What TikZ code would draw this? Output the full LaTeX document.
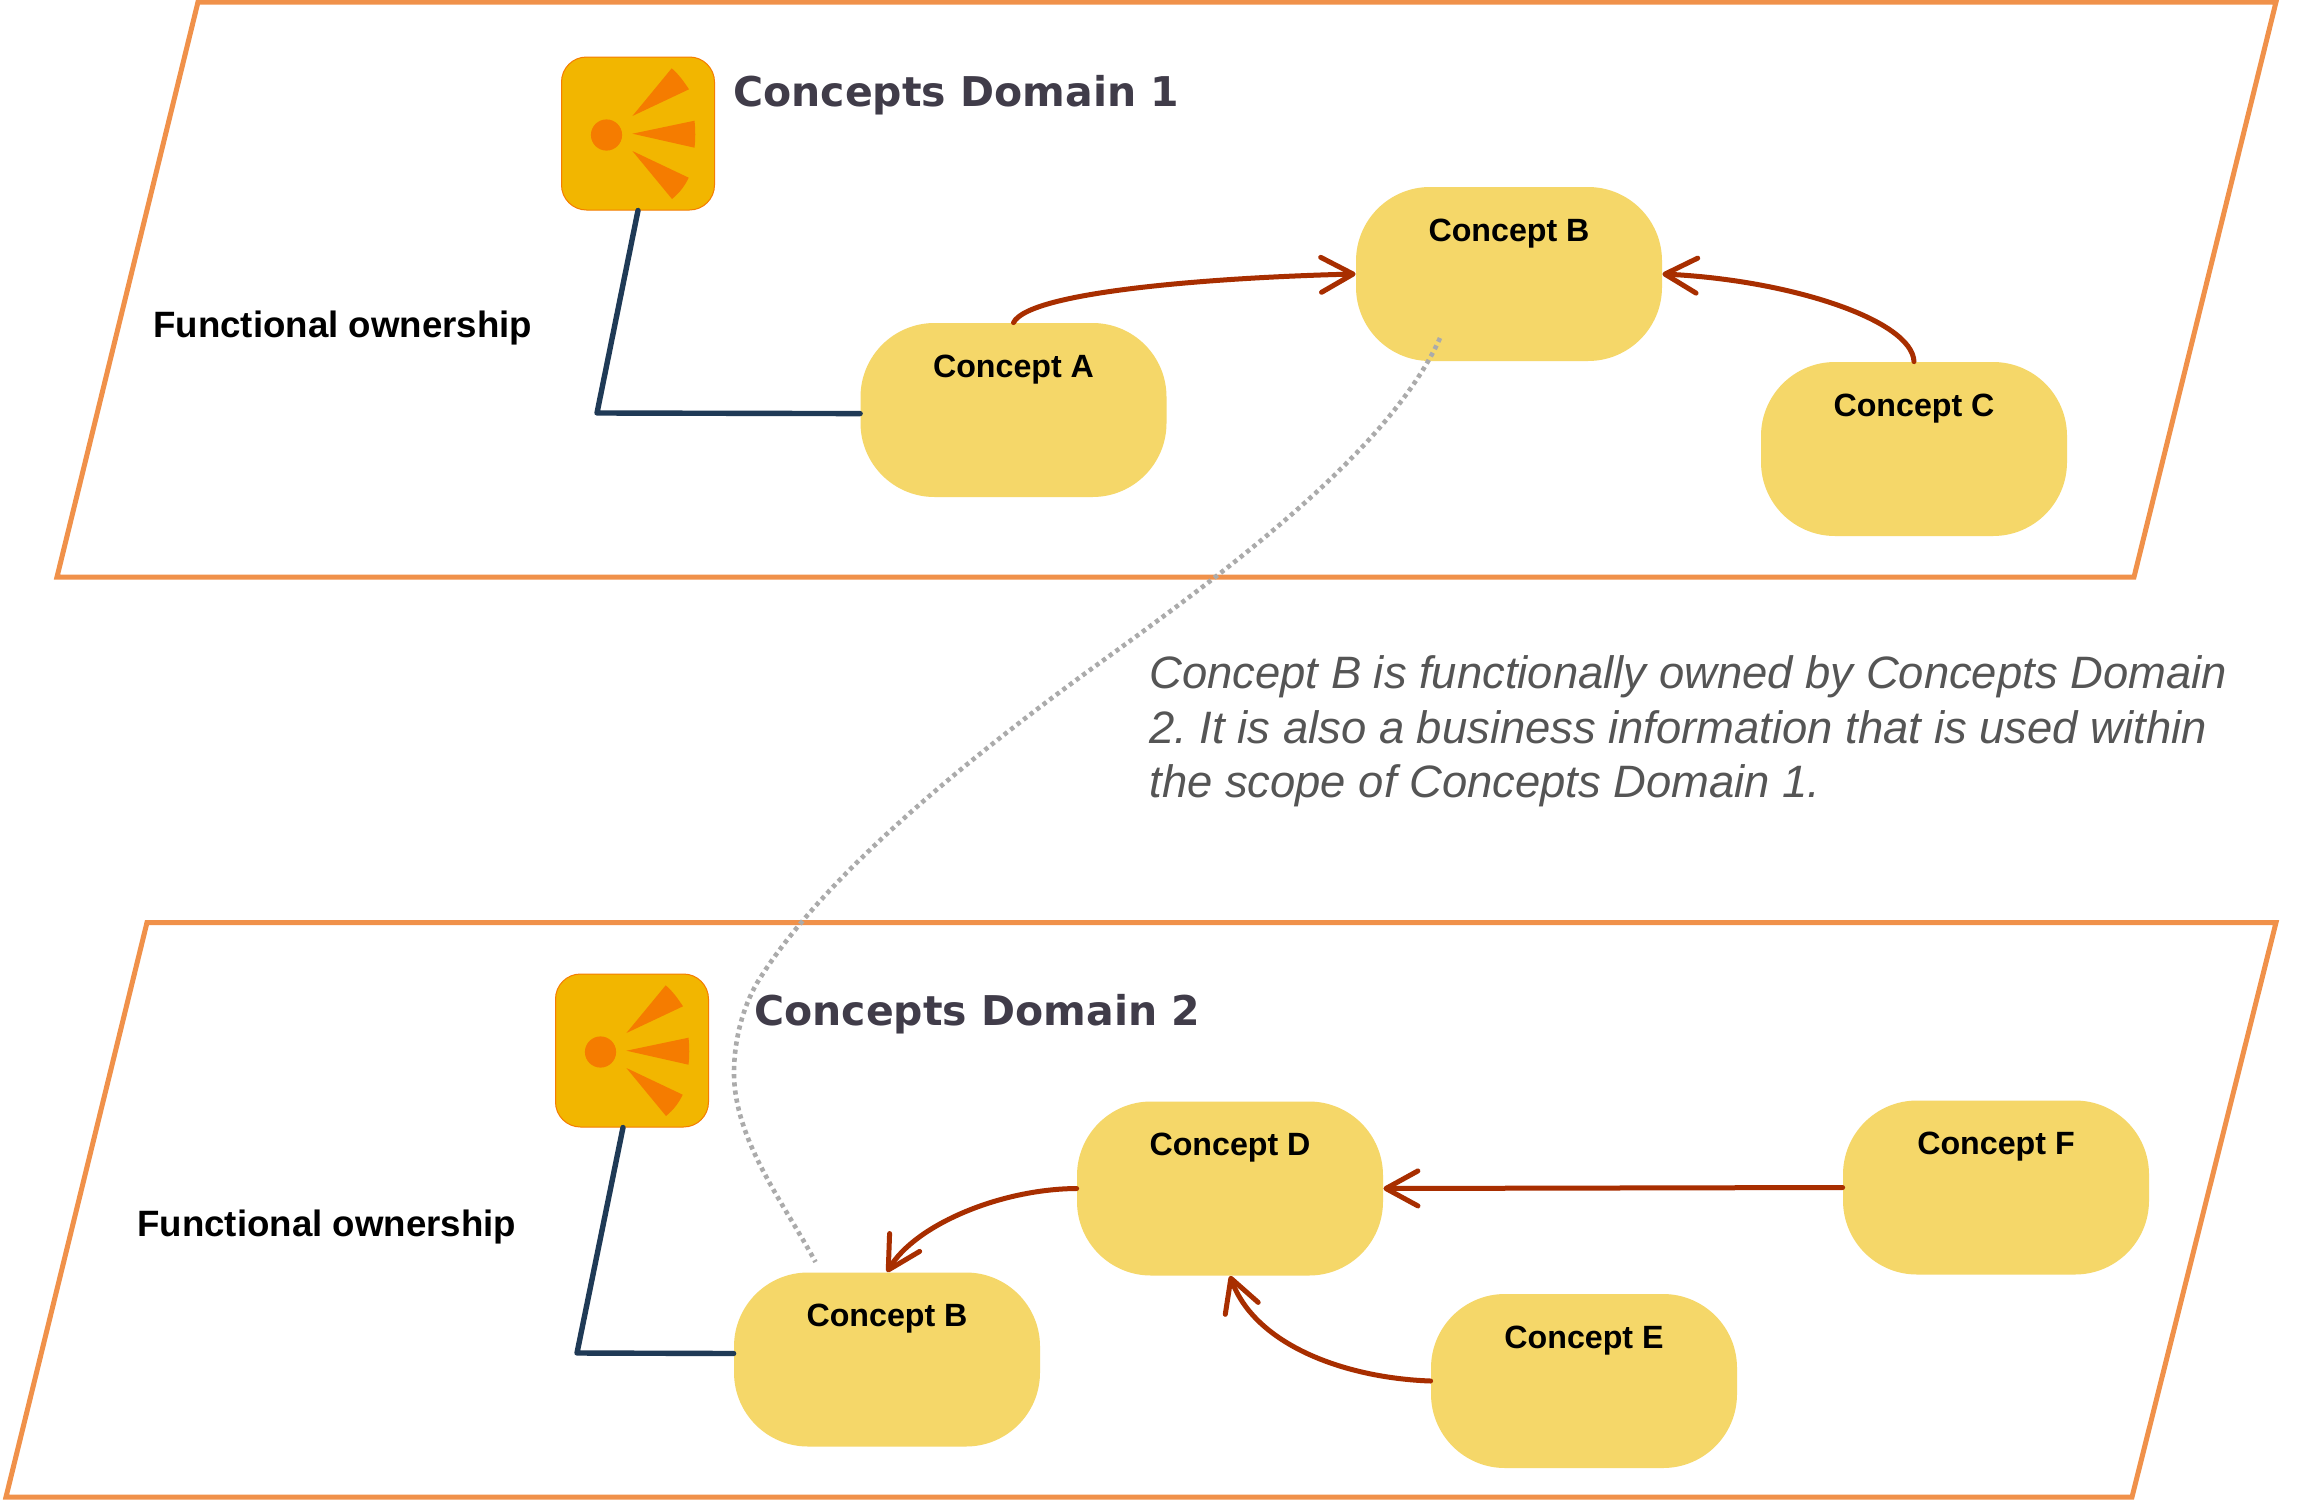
\documentclass[tikz,border=0pt]{standalone}
\usepackage{fontspec}
\setmainfont{Liberation Sans}
\newfontfamily\titlefont{DejaVu Sans}
\usetikzlibrary{arrows.meta}
\definecolor{domainline}{HTML}{F0914A}
\definecolor{conceptfill}{HTML}{F5D769}
\definecolor{iconfill}{HTML}{F2B600}
\definecolor{iconmark}{HTML}{F57C00}
\definecolor{linkred}{HTML}{A82E00}
\definecolor{linknavy}{HTML}{1F3A56}
\definecolor{titlegrey}{HTML}{403C49}
\definecolor{notegrey}{HTML}{555555}
\definecolor{dotgrey}{HTML}{ABABAB}
\tikzset{
  domainbox/.style={draw=domainline,line width=2.5pt,fill=white,line join=miter},
  concept/.style={shape=rectangle,fill=conceptfill,rounded corners=37pt,minimum width=153pt,inner sep=0pt,
    text height=27pt,text depth=60pt,align=center,font=\fontsize{16.1}{18}\selectfont\bfseries,text=black},
  iconbox/.style={shape=rectangle,fill=iconfill,draw=iconmark,line width=0.5pt,rounded corners=12.5pt,minimum width=76.5pt,minimum height=76.5pt,inner sep=0pt},
  iconpart/.style={fill=iconmark},
  flow/.style={draw=linkred,line width=2.5pt,line cap=round,-{Straight Barb[length=16pt,width=17.5pt,round]}},
  owner/.style={draw=linknavy,line width=2.7pt,line join=round,line cap=round},
  refer/.style={draw=dotgrey,line width=2.3pt,dash pattern=on 2.1pt off 2pt},
  domtitle/.style={anchor=base west,inner sep=0pt,font=\titlefont\fontsize{20.5}{24}\selectfont\bfseries,text=titlegrey},
  ownlabel/.style={anchor=base west,inner sep=0pt,font=\fontsize{18.33}{22}\selectfont\bfseries,text=black},
  note/.style={anchor=base west,inner sep=0pt,align=left,font=\frenchspacing\fontsize{22.7}{27.25}\selectfont\itshape,text=notegrey},
  sunicon/.pic={
    \node[iconbox] (box) at (0,0) {};
    \fill[iconpart] (-31.5,1.5) circle (15.6);
    \fill[iconpart] (-5.6,-17.5) -- (33.7,-65.2) .. controls (42,-58) and (47,-50) .. (51,-44.2) -- cycle;
    \fill[iconpart] (-5.6,0.2) -- (56.5,-12.8) .. controls (57.5,-4) and (57.5,6) .. (56.5,14.2) -- cycle;
    \fill[iconpart] (-5.6,17.5) -- (50.7,44.2) .. controls (47,52) and (42,59) .. (34,65.5) -- cycle;
  }
}
\begin{document}
\begin{tikzpicture}[x=0.5pt,y=-0.5pt]
\useasboundingbox (0,0) rectangle (2302,1499);
\fill[white] (0,0) rectangle (2302,1499);
% domains
\draw[domainbox] (198,2) -- (2276,2) -- (2134,577) -- (57,577) -- cycle;
\draw[domainbox] (147,922.5) -- (2276,922.5) -- (2132,1497) -- (6,1497) -- cycle;
% icons
\pic (ione) at (638,133.5) {sunicon};
\pic (itwo) at (632,1050.5) {sunicon};
% concepts
\node[concept] (a) at (1013.5,410) {Concept A};
\node[concept] (bone) at (1509,274) {Concept B};
\node[concept] (c) at (1914,449) {Concept C};
\node[concept] (btwo) at (887,1359.5) {Concept B};
\node[concept] (d) at (1230,1188.5) {Concept D};
\node[concept] (e) at (1584,1381) {Concept E};
\node[concept] (f) at (1996,1187.5) {Concept F};
% labels
\node[domtitle] (tone) at (733,106) {Concepts Domain 1};
\node[domtitle] (ttwo) at (754,1025) {Concepts Domain 2};
\node[ownlabel] (oone) at (153,337) {Functional ownership};
\node[ownlabel] (otwo) at (137,1236.5) {Functional ownership};
\node[note] (n) at (1149,797.5) {Concept B is functionally owned by Concepts Domain\\2. It is also a business information that is used within\\the scope of Concepts Domain 1.};
% corners / free ends
\coordinate (cornerone) at (597,413);
\coordinate (cornertwo) at (577,1353);
\coordinate (dotstart) at (1440,338);
\coordinate (dotup) at (1083,675);
\coordinate (dotmid) at (757,983);
\coordinate (dotturn) at (734,1073);
\coordinate (dotend) at (815.5,1262);
% ownership
\draw[owner] (ionebox.south) -- (cornerone) -- ([yshift=-1.8pt]a.west);
\draw[owner] ([xshift=-4.5pt]itwobox.south) -- (cornertwo) -- ([yshift=3pt]btwo.west);
% relations
\draw[flow] (a.north) .. controls (1030,290) and (1230,277) .. (bone.west);
\draw[flow] (c.north) .. controls (1912,320) and (1790,280) .. (bone.east);
\draw[flow] (d.west) .. controls (1000,1189) and (915,1225) .. (btwo.north);
\draw[flow] (e.west) .. controls (1345,1378) and (1255,1345) .. (d.south);
\draw[flow] (f.west) -- (d.east);
% dotted reference
\draw[refer] (dotstart) .. controls (1385,460) and (1200,590) .. (dotup) .. controls (960,765) and (820,880) .. (dotmid) .. controls (743,1007) and (734,1040) .. (dotturn) .. controls (734,1140) and (785,1205) .. (dotend);
\end{tikzpicture}
\end{document}
